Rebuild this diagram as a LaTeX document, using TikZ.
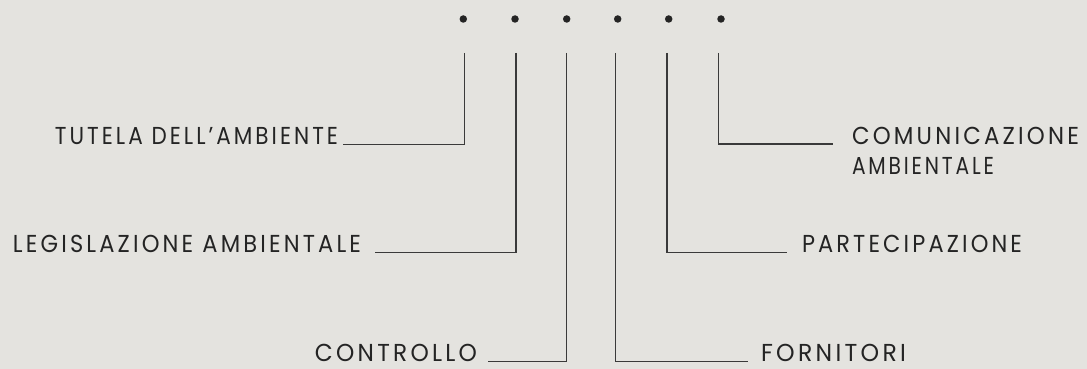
\documentclass[tikz,border=0pt]{standalone}
\usepackage{fontspec}
\setmainfont{Poppins}[LetterSpace=14]
\usepackage{graphicx}
\definecolor{bgcol}{RGB}{228,227,223}
\definecolor{inkcol}{RGB}{36,36,36}
\definecolor{wirecol}{RGB}{58,58,58}
\newcommand{\fitto}[2]{\resizebox{#1pt}{\height}{#2}}
\begin{document}
\begin{tikzpicture}[x=1pt,y=-1pt,
  dot/.style={circle, fill=inkcol, inner sep=0pt, minimum size=7.5pt},
  lab/.style={inner ysep=0pt, outer sep=0pt, text=inkcol, font=\fontsize{24.5}{27}\selectfont},
  wire/.style={draw=wirecol, line width=1.3pt}]
\fill[bgcol] (0,0) rectangle (1087,369);
\useasboundingbox (0,0) rectangle (1087,369);
% dots
\node[dot] (d1) at (463.3,19) {};
\node[dot] (d2) at (515,19) {};
\node[dot] (d3) at (566.7,19) {};
\node[dot] (d4) at (617.7,19) {};
\node[dot] (d5) at (668.7,19) {};
\node[dot] (d6) at (721,19) {};
% tops of the connectors
\coordinate (t1) at (464.3,53);
\coordinate (t2) at (516,53);
\coordinate (t3) at (566.3,53);
\coordinate (t4) at (615.7,53);
\coordinate (t5) at (667,53);
\coordinate (t6) at (718.7,53);
% labels
\node[lab, inner xsep=5pt, anchor=base east] (tutela) at (343,144.5) {\fitto{283}{TUTELA DELL’AMBIENTE}};
\node[lab, inner xsep=14pt, anchor=base east] (legis) at (375,252.5) {\fitto{348}{LEGISLAZIONE AMBIENTALE}};
\node[lab, inner xsep=11pt, anchor=base east] (contr) at (488,361.5) {\fitto{162}{CONTROLLO}};
\node[lab, inner xsep=13pt, anchor=base west] (forn) at (748,361.5) {\fitto{145}{FORNITORI}};
\node[lab, inner xsep=15pt, anchor=base west] (part) at (787,252.5) {\fitto{220}{PARTECIPAZIONE}};
\node[lab, inner xsep=19pt, anchor=base west] (comu) at (833,144) {\fitto{227}{COMUNICAZIONE}};
\node[lab, inner xsep=19pt, anchor=base west] (ambi) at ([yshift=-30.5pt]comu.base west) {\fitto{142}{AMBIENTALE}};
% connectors
\draw[wire] (t1) |- (tutela.base east);
\draw[wire] (t2) |- (legis.base east);
\draw[wire] (t3) |- (contr.base east);
\draw[wire] (t4) |- (forn.base west);
\draw[wire] (t5) |- (part.base west);
\draw[wire] (t6) |- (comu.base west);
\end{tikzpicture}
\end{document}
